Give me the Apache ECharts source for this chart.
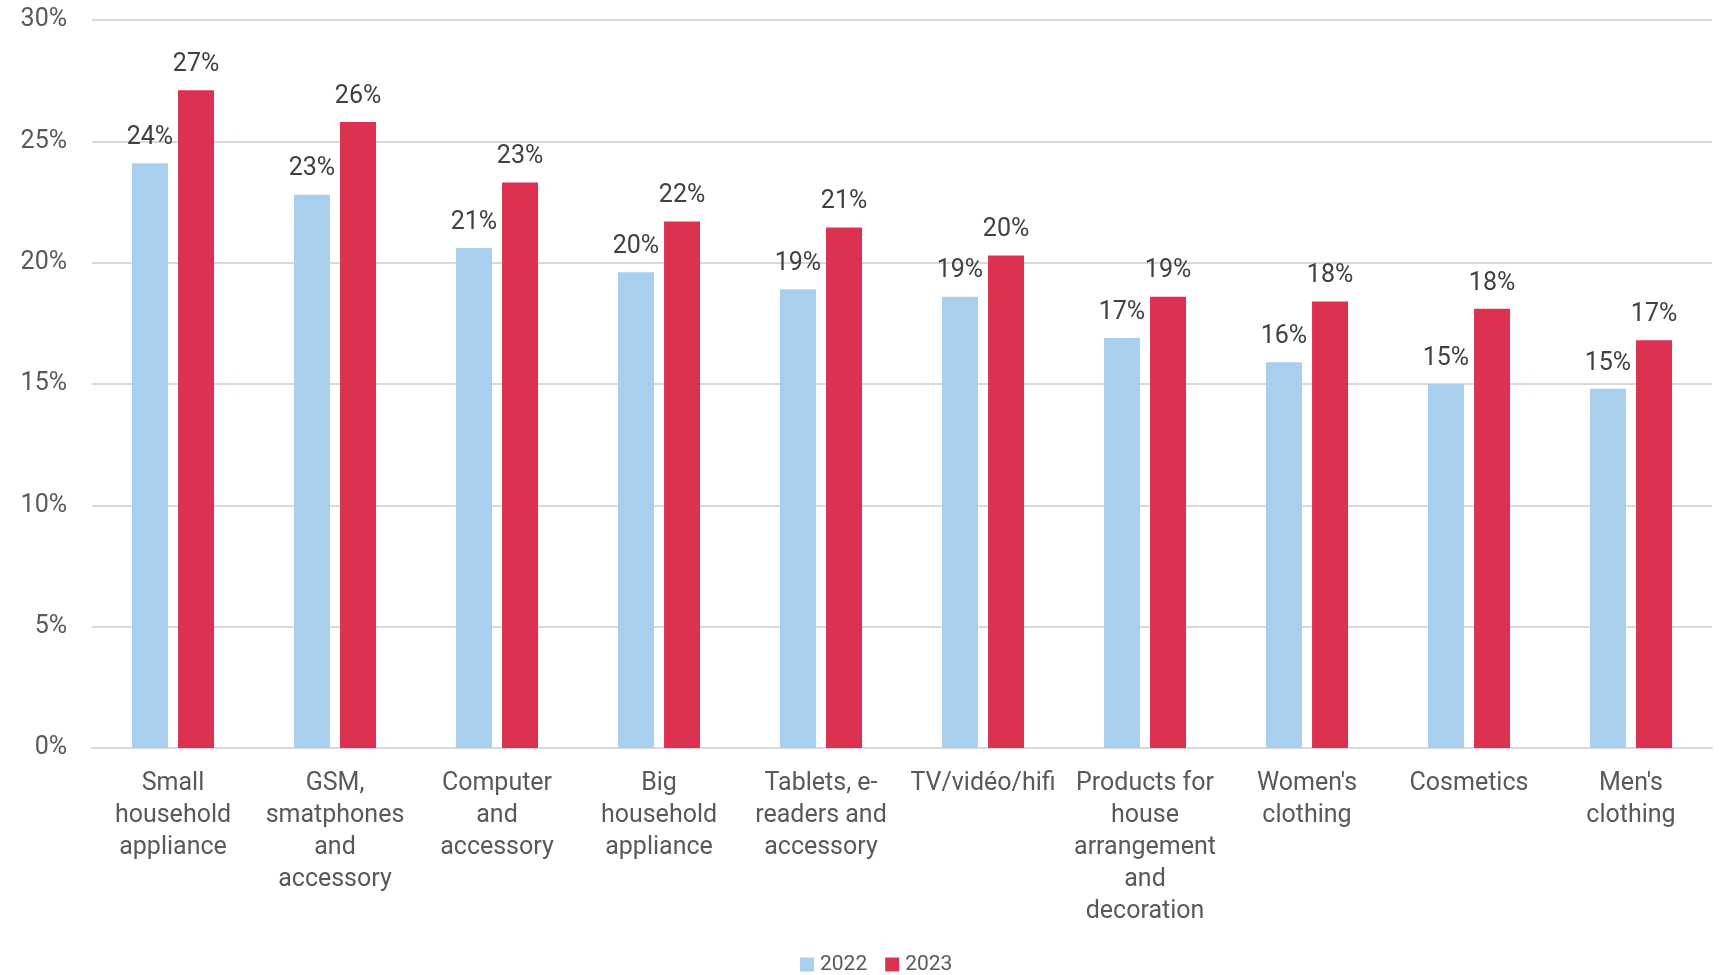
<!DOCTYPE html>
<html>
<head>
<meta charset="utf-8">
<script src="https://cdn.jsdelivr.net/npm/echarts@6/dist/echarts.min.js"></script>
<style>
    html, body { margin: 0; padding: 0; background: #fff; }
    #chart { width: 1719px; height: 975px; }
</style>
</head>
<body>
<div id="chart"></div>
<script>
// categories (line breaks as in the picture)
var categories = [
    'Small\nhousehold\nappliance',
    'GSM,\nsmatphones\nand\naccessory',
    'Computer\nand\naccessory',
    'Big\nhousehold\nappliance',
    'Tablets, e-\nreaders and\naccessory',
    'TV/vidéo/hifi',
    'Products for\nhouse\narrangement\nand\ndecoration',
    "Women's\nclothing",
    'Cosmetics',
    "Men's\nclothing"
];
var seriesNames = ['2022', '2023'];
var values2022 = [24.1, 22.8, 20.6, 19.6, 18.9, 18.6, 16.9, 15.9, 15.0, 14.8];
var values2023 = [27.1, 25.8, 23.3, 21.7, 21.45, 20.3, 18.6, 18.4, 18.1, 16.8];
var colors = ['#a9cfee', '#dc3150'];

var myChart = echarts.init(document.getElementById('chart'));

var labelStyle = {
    show: true,
    position: 'top',
    distance: 13,
    fontFamily: 'Roboto',
    fontSize: 25,
    color: '#404040',
    formatter: function (p) {
        return Math.round(p.value) + '%';
    }
};

var option = {
    animation: false,
    color: colors,
    grid: {
        left: 92,
        right: 7,
        top: 20,
        bottom: 227
    },
    legend: {
        top: 954,
        left: 800,
        padding: 0,
        itemWidth: 14,
        itemHeight: 14,
        itemGap: 18,
        icon: 'rect',
        textStyle: {
            fontFamily: 'Roboto',
            fontSize: 21,
            color: '#595959',
            padding: [0, 0, 0, 1]
        },
        data: seriesNames
    },
    xAxis: {
        type: 'category',
        data: categories,
        axisLine: { lineStyle: { color: '#d9d9d9', width: 2 } },
        axisTick: { show: false },
        axisLabel: {
            interval: 0,
            margin: 20,
            fontFamily: 'Roboto',
            fontSize: 25,
            lineHeight: 32,
            color: '#595959',
            verticalAlign: 'top'
        }
    },
    yAxis: {
        type: 'value',
        min: 0,
        max: 30,
        interval: 5,
        axisLine: { show: false },
        axisTick: { show: false },
        splitLine: { lineStyle: { color: '#d9d9d9', width: 2 } },
        axisLabel: {
            margin: 25,
            fontFamily: 'Roboto',
            fontSize: 25,
            color: '#595959',
            formatter: '{value}%'
        }
    },
    series: [{
        name: seriesNames[0],
        type: 'bar',
        barWidth: 36,
        barGap: '28%',
        data: values2022,
        label: labelStyle
    }, {
        name: seriesNames[1],
        type: 'bar',
        barWidth: 36,
        barGap: '28%',
        data: values2023,
        label: labelStyle
    }]
};
myChart.setOption(option);
</script>
</body>
</html>
